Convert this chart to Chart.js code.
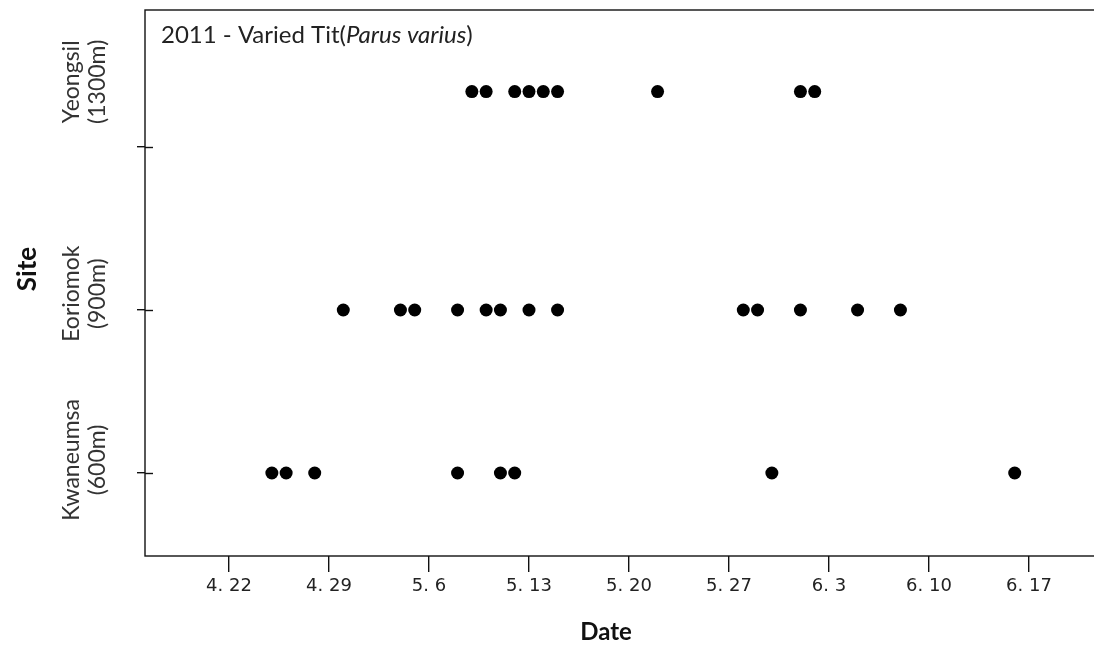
<!DOCTYPE html>
<html>
<head>
<meta charset="utf-8">
<title>Varied Tit 2011</title>
<script src="https://cdn.jsdelivr.net/npm/chart.js@4/dist/chart.umd.min.js"></script>
<style>
  html, body { margin: 0; padding: 0; background: #fff; overflow: hidden; }
  #wrap { width: 1094px; height: 653px; overflow: hidden; }
</style>
</head>
<body>
<div id="wrap"><canvas id="obsChart" width="1100" height="653"></canvas></div>
<script>
// sites, bottom to top
const siteNames = ['Kwaneumsa', 'Eoriomok', 'Yeongsil'];
const siteElevations = ['(600m)', '(900m)', '(1300m)'];
const siteRows = [1, 2, 3.34];          // row each site's dots sit on
const siteLabelRows = [1.08, 2.1, 3.4]; // where the rotated site names sit
const siteTicks = [1, 2, 3];

// observation dates (month.day)
const kwaneumsaDates = ['4.25', '4.26', '4.28', '5.8', '5.11', '5.12', '5.30', '6.16'];
const eoriomokDates = ['4.30', '5.4', '5.5', '5.8', '5.10', '5.11', '5.13', '5.15', '5.28', '5.29', '6.1', '6.5', '6.8'];
const yeongsilDates = ['5.9', '5.10', '5.12', '5.13', '5.14', '5.15', '5.22', '6.1', '6.2'];

const dateTicks = ['4.22', '4.29', '5.6', '5.13', '5.20', '5.27', '6.3', '6.10', '6.17'];

const titleText = '2011 - Varied Tit(';
const titleSpecies = 'Parus varius';

// days counted from April 22
const monthOffset = { 4: -22, 5: 8, 6: 39 };
function dayOf(md) {
  const [m, d] = md.split('.').map(Number);
  return monthOffset[m] + d;
}
function tickLabel(md) {
  const [m, d] = md.split('.');
  return `${m}. ${d}`;
}

const seriesDates = [kwaneumsaDates, eoriomokDates, yeongsilDates];
const datasets = seriesDates.map((dates, i) => ({
  label: siteNames[i],
  data: dates.map(d => ({ x: dayOf(d), y: siteRows[i] })),
  pointRadius: 6.5,
  pointHoverRadius: 6.5,
  pointBackgroundColor: '#000',
  pointBorderWidth: 0,
  showLine: false
}));

const tickValueLabels = {};
dateTicks.forEach(t => { tickValueLabels[dayOf(t)] = tickLabel(t); });

// box, inner half of y ticks, rotated site names, axis titles, title
const framePlugin = {
  id: 'frame',
  afterDraw(chart) {
    const { ctx, chartArea: a, scales: { y } } = chart;
    ctx.save();
    ctx.strokeStyle = '#111';
    ctx.lineWidth = 1.4;
    ctx.strokeRect(a.left, a.top, a.right - a.left, a.bottom - a.top);
    siteTicks.forEach(v => {
      const py = Math.round(y.getPixelForValue(v)) + 0.5;
      ctx.beginPath();
      ctx.moveTo(a.left, py);
      ctx.lineTo(a.left + 8, py);
      ctx.stroke();
    });

    ctx.fillStyle = '#333';
    ctx.textAlign = 'center';
    ctx.textBaseline = 'middle';
    ctx.font = '23px Lato';
    siteNames.forEach((name, i) => {
      const py = y.getPixelForValue(siteLabelRows[i]);
      ctx.save();
      ctx.translate(72, py);
      ctx.rotate(-Math.PI / 2);
      ctx.fillText(name, 0, 0);
      ctx.restore();
      ctx.save();
      ctx.translate(98, py);
      ctx.rotate(-Math.PI / 2);
      ctx.fillText(siteElevations[i], 0, 0);
      ctx.restore();
    });

    ctx.fillStyle = '#111';
    ctx.font = 'bold 26px Lato';
    ctx.save();
    ctx.translate(28, 269);
    ctx.rotate(-Math.PI / 2);
    ctx.fillText('Site', 0, 0);
    ctx.restore();
    ctx.font = 'bold 24px Lato';
    ctx.fillText('Date', 606, 632);

    ctx.fillStyle = '#222';
    ctx.textAlign = 'left';
    ctx.textBaseline = 'alphabetic';
    ctx.font = '24px Lato';
    let tx = 161;
    ctx.fillText(titleText, tx, 43);
    tx += ctx.measureText(titleText).width;
    ctx.font = 'italic 24px Lato';
    ctx.fillText(titleSpecies, tx, 43);
    tx += ctx.measureText(titleSpecies).width;
    ctx.font = '24px Lato';
    ctx.fillText(')', tx, 43);
    ctx.restore();
  }
};

new Chart(document.getElementById('obsChart'), {
  type: 'scatter',
  data: { datasets },
  options: {
    responsive: false,
    animation: false,
    layout: { autoPadding: false, padding: { top: 10, left: 0, right: 0, bottom: 0 } },
    plugins: { legend: { display: false }, tooltip: { enabled: false } },
    scales: {
      x: {
        type: 'linear',
        min: -5.88,
        max: 60.97,
        afterBuildTicks: scale => {
          scale.ticks = dateTicks.map(t => ({ value: dayOf(t) }));
        },
        afterFit: scale => { scale.height = 97; },
        border: { display: false },
        grid: { drawOnChartArea: false, drawTicks: true, tickLength: 16, color: '#111', lineWidth: 1.4 },
        ticks: {
          autoSkip: false,
          maxRotation: 0,
          minRotation: 0,
          padding: 4,
          color: '#222',
          font: { family: 'DejaVu Sans', size: 18 },
          callback: value => tickValueLabels[value] || ''
        }
      },
      y: {
        type: 'linear',
        min: 0.4908,
        max: 3.8405,
        afterBuildTicks: scale => {
          scale.ticks = siteTicks.map(v => ({ value: v }));
        },
        afterFit: scale => { scale.width = 145; },
        border: { display: false },
        grid: { drawOnChartArea: false, drawTicks: true, tickLength: 8, color: '#111', lineWidth: 1.4 },
        ticks: { display: false }
      }
    }
  },
  plugins: [framePlugin]
});
</script>
</body>
</html>
